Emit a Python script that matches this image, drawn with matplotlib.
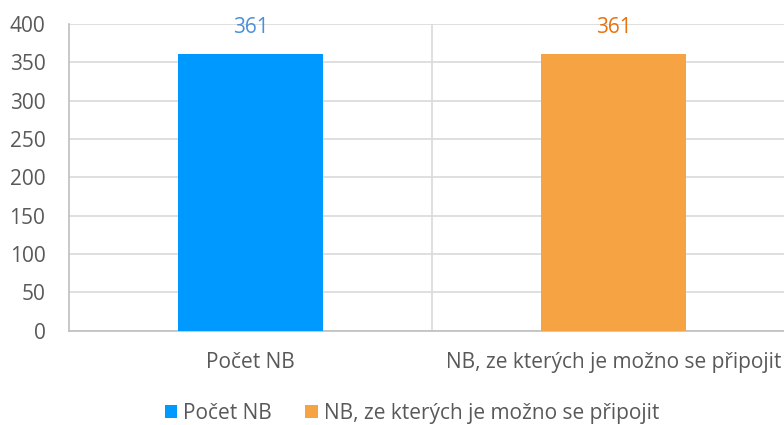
import matplotlib.pyplot as plt
from matplotlib.ticker import MultipleLocator, FixedLocator

plt.rcParams['font.family'] = ['Open Sans', 'DejaVu Sans']

categories = ['Počet NB', 'NB, ze kterých je možno se připojit']
values = [361, 361]
bar_colors = ['#0099FF', '#F6A443']
label_colors = ['#4A90D9', '#E8720C']

fig = plt.figure(figsize=(7.84, 4.25), dpi=100)
ax = fig.add_axes([69 / 784, 94.3 / 425, 726 / 784, 306.7 / 425])

x = list(range(len(categories)))
bars = ax.bar(x, values, width=0.4, color=bar_colors, zorder=3)
for xi, v, c in zip(x, values, label_colors):
    ax.text(xi, v + 34, str(v), ha='center', va='center', color=c, fontsize=15)

ax.set_xlim(-0.5, len(categories) - 0.5)
ax.set_ylim(0, 400)
ax.yaxis.set_major_locator(MultipleLocator(50))
ax.set_xticks(x)
ax.set_xticklabels(categories)
ax.xaxis.set_minor_locator(FixedLocator([0.5, 1.5]))

ax.grid(axis='y', color='#d9d9d9', linewidth=1.2, zorder=0)
ax.grid(axis='x', which='minor', color='#d9d9d9', linewidth=1.2, zorder=0)
ax.tick_params(axis='both', which='both', length=0, colors='#595959', labelsize=15)
ax.tick_params(axis='y', pad=17)
ax.tick_params(axis='x', pad=15)

for s in ['top', 'right']:
    ax.spines[s].set_visible(False)
for s in ['left', 'bottom']:
    ax.spines[s].set_color('#bfbfbf')
    ax.spines[s].set_linewidth(1.2)

fig.legend(bars, categories, loc='center', bbox_to_anchor=(412 / 784, 1 - 413.5 / 425),
           ncol=2, frameon=False, fontsize=15, labelcolor='#595959',
           handlelength=0.6, handleheight=0.6, handletextpad=0.3, columnspacing=1.6,
           borderpad=0, borderaxespad=0)

fig.savefig('out.png', dpi=100)
